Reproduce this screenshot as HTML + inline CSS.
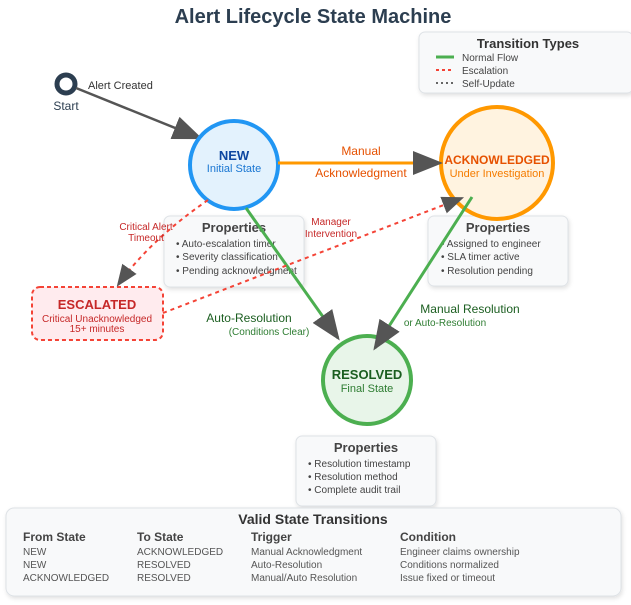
<!DOCTYPE html>
<html><head><meta charset="utf-8"><style>
body{margin:0;background:#fff;}
svg{display:block;font-family:"Liberation Sans",Arial,sans-serif;}
</style></head><body>
<svg width="631" height="605" viewBox="0 0 631 605" xmlns="http://www.w3.org/2000/svg">
<defs>
<marker id="ahb" viewBox="0 0 10 8" markerWidth="30" markerHeight="24" refX="9" refY="4" orient="auto" markerUnits="userSpaceOnUse"><path d="M0,0 L10,4 L0,8z" fill="#555"/></marker>
<marker id="ahm" viewBox="0 0 10 8" markerWidth="22" markerHeight="18" refX="9" refY="4" orient="auto" markerUnits="userSpaceOnUse"><path d="M0,0 L10,4 L0,8z" fill="#555"/></marker>
<filter id="sh" x="-10%" y="-10%" width="120%" height="130%"><feDropShadow dx="1" dy="2" stdDeviation="2" flood-color="#000" flood-opacity="0.12"/></filter>
</defs>
<text x="313" y="23" text-anchor="middle" font-size="20" font-weight="bold" fill="#2c3e50">Alert Lifecycle State Machine</text>

<!-- legend -->
<rect x="419" y="32" width="214" height="61" rx="6" fill="#f8f9fa" stroke="#dee2e6" filter="url(#sh)"/>
<text x="528" y="48" text-anchor="middle" font-size="13" font-weight="bold" fill="#333">Transition Types</text>
<line x1="436" y1="57" x2="454" y2="57" stroke="#4caf50" stroke-width="3"/>
<text x="462" y="61" font-size="10" fill="#444">Normal Flow</text>
<line x1="436" y1="70" x2="454" y2="70" stroke="#f44336" stroke-width="2" stroke-dasharray="3,3"/>
<text x="462" y="74" font-size="10" fill="#444">Escalation</text>
<line x1="436" y1="83" x2="454" y2="83" stroke="#666" stroke-width="2" stroke-dasharray="2,3"/>
<text x="462" y="87" font-size="10" fill="#444">Self-Update</text>

<!-- props boxes -->
<g font-size="10" fill="#444">
<rect x="164" y="216" width="140" height="71" rx="6" fill="#f8f9fa" stroke="#dee2e6" filter="url(#sh)"/>
<text x="234" y="232" text-anchor="middle" font-size="13" font-weight="bold" fill="#444">Properties</text>
<text x="176" y="247">• Auto-escalation timer</text>
<text x="176" y="260">• Severity classification</text>
<text x="176" y="274">• Pending acknowledgment</text>

<rect x="428" y="216" width="140" height="70" rx="6" fill="#f8f9fa" stroke="#dee2e6" filter="url(#sh)"/>
<text x="498" y="232" text-anchor="middle" font-size="13" font-weight="bold" fill="#444">Properties</text>
<text x="441" y="247">• Assigned to engineer</text>
<text x="441" y="260">• SLA timer active</text>
<text x="441" y="274">• Resolution pending</text>

<rect x="296" y="436" width="140" height="70" rx="6" fill="#f8f9fa" stroke="#dee2e6" filter="url(#sh)"/>
<text x="366" y="452" text-anchor="middle" font-size="13" font-weight="bold" fill="#444">Properties</text>
<text x="308" y="467">• Resolution timestamp</text>
<text x="308" y="480">• Resolution method</text>
<text x="308" y="493">• Complete audit trail</text>
</g>

<!-- start -->
<circle cx="66" cy="84" r="9" fill="#fff" stroke="#2c3e50" stroke-width="5"/>
<text x="66" y="110" text-anchor="middle" font-size="12" fill="#2c3e50">Start</text>
<text x="88" y="89" font-size="11" fill="#333">Alert Created</text>
<line x1="76" y1="88" x2="200" y2="138" stroke="#555" stroke-width="2.5" marker-end="url(#ahb)"/>

<!-- NEW -->
<circle cx="234" cy="165" r="44" fill="#e3f2fd" stroke="#2196f3" stroke-width="4"/>
<text x="234" y="160" text-anchor="middle" font-size="13" font-weight="bold" fill="#0d47a1">NEW</text>
<text x="234" y="172" text-anchor="middle" font-size="11" fill="#1976d2">Initial State</text>

<!-- ACK -->
<circle cx="497" cy="163" r="56" fill="#fff3e0" stroke="#ff9800" stroke-width="4"/>
<text x="497" y="164" text-anchor="middle" font-size="12" font-weight="bold" fill="#e65100">ACKNOWLEDGED</text>
<text x="497" y="177" text-anchor="middle" font-size="11" fill="#f57c00">Under Investigation</text>

<!-- RESOLVED -->
<circle cx="367" cy="380" r="44" fill="#e8f5e9" stroke="#4caf50" stroke-width="4"/>
<text x="367" y="379" text-anchor="middle" font-size="13" font-weight="bold" fill="#1b5e20">RESOLVED</text>
<text x="367" y="392" text-anchor="middle" font-size="11" fill="#2e7d32">Final State</text>

<!-- ESCALATED -->
<rect x="32" y="287" width="131" height="53" rx="8" fill="#ffebee" stroke="#f44336" stroke-width="2" stroke-dasharray="4,3"/>
<text x="97" y="309" text-anchor="middle" font-size="13" font-weight="bold" fill="#c62828">ESCALATED</text>
<text x="97" y="322" text-anchor="middle" font-size="10" fill="#c62828">Critical Unacknowledged</text>
<text x="97" y="332" text-anchor="middle" font-size="10" fill="#c62828">15+ minutes</text>

<!-- edges -->
<line x1="278" y1="163" x2="440" y2="163" stroke="#ff9800" stroke-width="3" marker-end="url(#ahb)"/>
<text x="361" y="155" text-anchor="middle" font-size="12" fill="#e65100">Manual</text>
<text x="361" y="177" text-anchor="middle" font-size="12" fill="#e65100">Acknowledgment</text>
<line x1="246" y1="208" x2="338" y2="338" stroke="#4caf50" stroke-width="3" marker-end="url(#ahb)"/>
<line x1="472" y1="197" x2="375" y2="348" stroke="#4caf50" stroke-width="3" marker-end="url(#ahb)"/>
<path d="M208,200 Q150,240 118,285" fill="none" stroke="#f44336" stroke-width="2" stroke-dasharray="4,4" marker-end="url(#ahm)"/>
<line x1="163" y1="313" x2="462" y2="198" stroke="#f44336" stroke-width="2" stroke-dasharray="4,4" marker-end="url(#ahm)"/>
<text x="146" y="230" text-anchor="middle" font-size="10" fill="#c62828">Critical Alert</text>
<text x="146" y="241" text-anchor="middle" font-size="10" fill="#c62828">Timeout</text>
<text x="331" y="225" text-anchor="middle" font-size="10" fill="#c62828">Manager</text>
<text x="331" y="237" text-anchor="middle" font-size="10" fill="#c62828">Intervention</text>
<text x="249" y="322" text-anchor="middle" font-size="12" fill="#1b5e20">Auto-Resolution</text>
<text x="269" y="335" text-anchor="middle" font-size="10" fill="#2e7d32">(Conditions Clear)</text>
<text x="470" y="313" text-anchor="middle" font-size="12" fill="#1b5e20">Manual Resolution</text>
<text x="445" y="326" text-anchor="middle" font-size="10" fill="#2e7d32">or Auto-Resolution</text>

<!-- table -->
<rect x="6" y="508" width="615" height="88" rx="8" fill="#f8f9fa" stroke="#dee2e6" filter="url(#sh)"/>
<text x="313" y="524" text-anchor="middle" font-size="14" font-weight="bold" fill="#333">Valid State Transitions</text>
<g font-size="12" font-weight="bold" fill="#444">
<text x="23" y="541">From State</text><text x="137" y="541">To State</text><text x="251" y="541">Trigger</text><text x="400" y="541">Condition</text>
</g>
<g font-size="10" fill="#555">
<text x="23" y="555">NEW</text><text x="137" y="555">ACKNOWLEDGED</text><text x="251" y="555">Manual Acknowledgment</text><text x="400" y="555">Engineer claims ownership</text>
<text x="23" y="568">NEW</text><text x="137" y="568">RESOLVED</text><text x="251" y="568">Auto-Resolution</text><text x="400" y="568">Conditions normalized</text>
<text x="23" y="581">ACKNOWLEDGED</text><text x="137" y="581">RESOLVED</text><text x="251" y="581">Manual/Auto Resolution</text><text x="400" y="581">Issue fixed or timeout</text>
</g>
</svg>
</body></html>
